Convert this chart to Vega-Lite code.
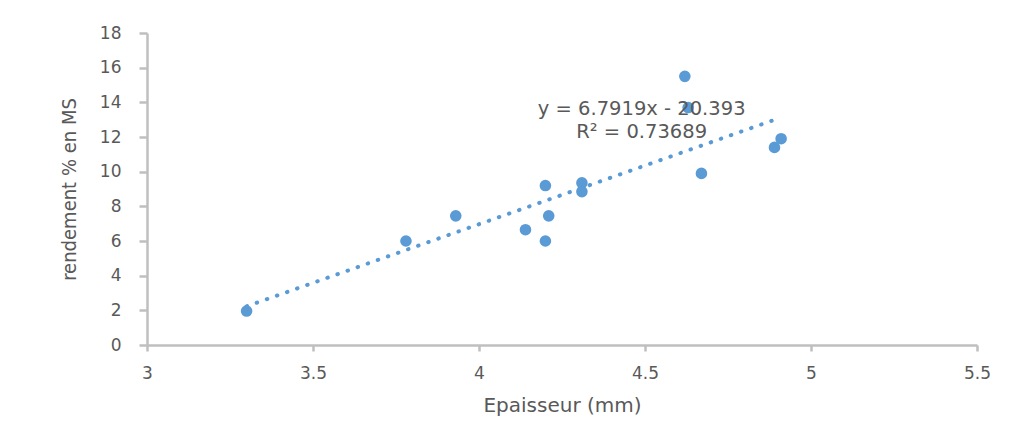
{
  "$schema": "https://vega.github.io/schema/vega-lite/v6.json",
  "width": 830,
  "height": 312,
  "autosize": {"type": "none"},
  "padding": {"left": 147, "top": 33, "right": 41, "bottom": 101},
  "background": "white",
  "config": {
    "view": {"stroke": null},
    "font": "DejaVu Sans"
  },
  "datasets": {
    "pts": [
      {"ep": 3.30, "rend": 1.96},
      {"ep": 3.78, "rend": 6.0},
      {"ep": 3.93, "rend": 7.45},
      {"ep": 4.14, "rend": 6.65},
      {"ep": 4.20, "rend": 9.2},
      {"ep": 4.20, "rend": 6.0},
      {"ep": 4.21, "rend": 7.45},
      {"ep": 4.31, "rend": 9.35},
      {"ep": 4.31, "rend": 8.85},
      {"ep": 4.62, "rend": 15.5},
      {"ep": 4.63, "rend": 13.7},
      {"ep": 4.67, "rend": 9.9},
      {"ep": 4.89, "rend": 11.4},
      {"ep": 4.91, "rend": 11.9}
    ],
    "labels": [
      {"ep": 4.49, "rend": 13.6, "txt": "y = 6.7919x - 20.393"},
      {"ep": 4.49, "rend": 12.3, "txt": "R² = 0.73689"}
    ]
  },
  "encoding": {
    "x": {
      "field": "ep", "type": "quantitative",
      "scale": {"domain": [3, 5.5], "nice": false, "zero": false},
      "axis": {
        "values": [3, 3.5, 4, 4.5, 5, 5.5],
        "format": "~g",
        "title": "Epaisseur (mm)",
        "titleFont": "DejaVu Sans", "titleFontSize": 20, "titleFontWeight": "normal", "titleColor": "#595959", "titlePadding": 14,
        "labelFont": "DejaVu Sans", "labelFontSize": 17, "labelColor": "#595959", "labelPadding": 14,
        "domainColor": "#BFBFBF", "domainWidth": 2.5, "tickColor": "#BFBFBF", "tickWidth": 2.5, "tickSize": 6,
        "grid": false, "labelFlush": false, "labelOverlap": false
      }
    },
    "y": {
      "field": "rend", "type": "quantitative",
      "scale": {"domain": [0, 18], "nice": false},
      "axis": {
        "values": [0, 2, 4, 6, 8, 10, 12, 14, 16, 18],
        "title": "rendement % en MS",
        "titleFont": "DejaVu Sans Condensed", "titleFontSize": 20, "titleFontWeight": "normal", "titleColor": "#595959", "titlePadding": 20,
        "labelFont": "DejaVu Sans", "labelFontSize": 17, "labelColor": "#595959", "labelPadding": 18,
        "domainColor": "#BFBFBF", "domainWidth": 2.5, "tickColor": "#BFBFBF", "tickWidth": 2.5, "tickSize": 8,
        "grid": false, "labelOverlap": false, "labelFlush": false
      }
    }
  },
  "layer": [
    {
      "data": {"name": "pts"},
      "transform": [{"regression": "rend", "on": "ep"}],
      "mark": {"type": "line", "color": "#5B9BD5", "strokeWidth": 4, "strokeCap": "round", "strokeDash": [0.5, 10.2]}
    },
    {
      "data": {"name": "pts"},
      "mark": {"type": "point", "shape": "circle", "filled": true, "color": "#5B9BD5", "opacity": 1, "size": 135}
    },
    {
      "data": {"name": "labels"},
      "mark": {"type": "text", "font": "DejaVu Sans", "fontSize": 19.5, "color": "#595959", "align": "center", "baseline": "middle"},
      "encoding": {
        "text": {"field": "txt"}
      }
    }
  ]
}
